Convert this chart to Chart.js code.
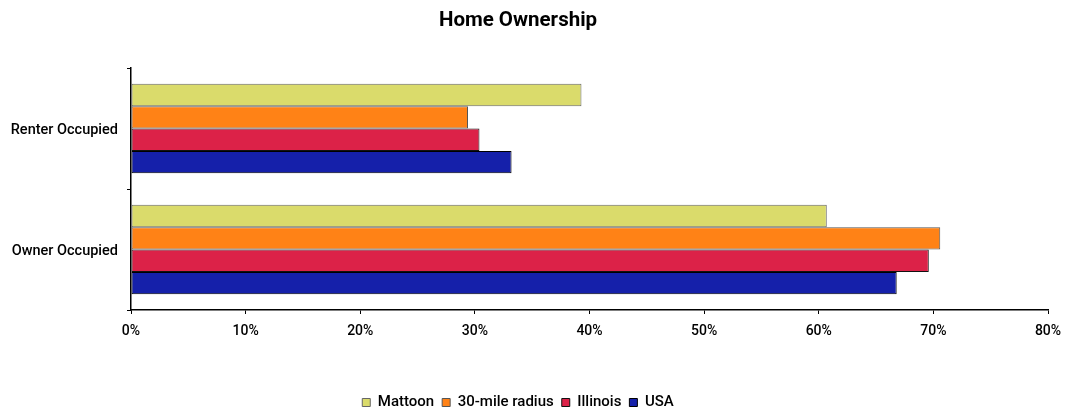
<!DOCTYPE html>
<html>
<head>
<meta charset="utf-8">
<title>Home Ownership</title>
<script src="https://cdn.jsdelivr.net/npm/chart.js@4"></script>
<style>
  html, body { margin: 0; padding: 0; background: #fff; }
  #wrap { width: 1068px; height: 415px; }
</style>
</head>
<body>
<div id="wrap"><canvas id="myChart" width="1068" height="415"></canvas></div>
<script>
const labels = ['Renter Occupied', 'Owner Occupied'];

const mattoon = [39.3, 60.7];
const radius30 = [29.4, 70.6];
const illinois = [30.4, 69.6];
const usa = [33.2, 66.8];

const xTicks = [0, 10, 20, 30, 40, 50, 60, 70, 80];

const font = 'Roboto, "DejaVu Sans", sans-serif';

function series(label, data, fill, edge) {
    return {
        label: label,
        data: data,
        backgroundColor: fill,
        borderColor: edge,
        borderWidth: 1,
        borderSkipped: false,
        categoryPercentage: 0.74,
        barPercentage: 1.0
    };
}

const config = {
    type: 'bar',
    data: {
        labels: labels,
        datasets: [
            series('Mattoon', mattoon, '#DADB6B', '#666666'),
            series('30-mile radius', radius30, '#FF8216', '#555555'),
            series('Illinois', illinois, '#DC2248', '#111111'),
            series('USA', usa, '#1520AA', '#000000')
        ]
    },
    options: {
        indexAxis: 'y',
        responsive: false,
        animation: false,
        // pulls the title and legend a little left of the page centre
        layout: { padding: { left: -12, right: 20, top: 0, bottom: -5 } },
        scales: {
            x: {
                min: 0,
                max: 80,
                afterBuildTicks: axis => { axis.ticks = xTicks.map(v => ({ value: v })); },
                ticks: {
                    color: '#000',
                    font: { family: font, size: 14, weight: 500 },
                    padding: 9,
                    maxRotation: 0,
                    callback: v => v + '%'
                },
                grid: { drawOnChartArea: false, drawTicks: true, tickLength: 4, color: '#000' },
                border: { color: '#000', width: 1.5 },
                afterFit: axis => {
                    axis.height = 77;
                    axis.paddingLeft = 0;
                    axis.paddingRight = 0;
                }
            },
            y: {
                ticks: {
                    color: '#000',
                    font: { family: font, size: 14.5, weight: 500 },
                    padding: 9,
                    labelOffset: 2
                },
                grid: { drawOnChartArea: false, drawTicks: true, tickLength: 4, color: '#000', offset: true },
                border: { color: '#000', width: 1.5 },
                afterFit: axis => { axis.width = 143; }
            }
        },
        plugins: {
            title: {
                display: true,
                text: 'Home Ownership',
                color: '#000',
                font: { family: font, size: 20.5, weight: 'bold' },
                padding: { top: 9, bottom: 34.5 }
            },
            legend: {
                position: 'bottom',
                labels: {
                    color: '#000',
                    font: { family: font, size: 15, weight: 500 },
                    boxWidth: 8,
                    boxHeight: 8,
                    padding: 8
                }
            },
            tooltip: { enabled: false }
        }
    }
};

const myChart = new Chart(document.getElementById('myChart'), config);
</script>
</body>
</html>
